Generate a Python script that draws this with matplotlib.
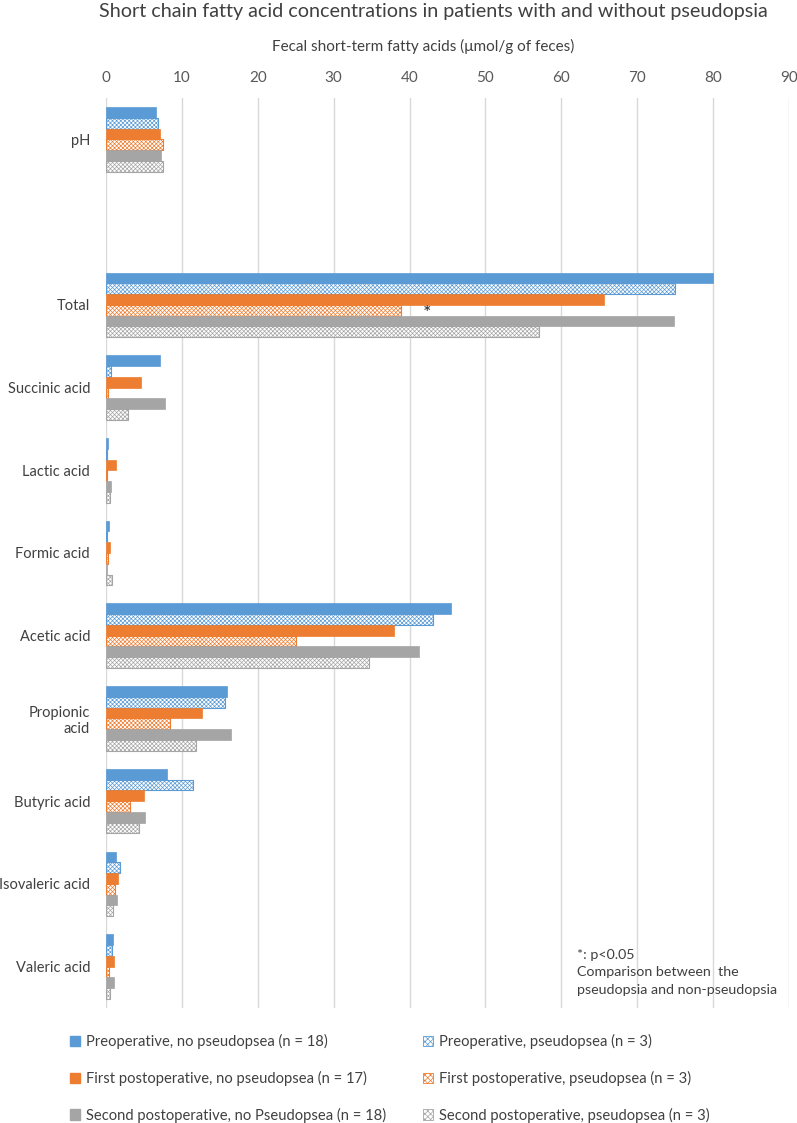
import matplotlib
matplotlib.use("Agg")
import matplotlib.pyplot as plt
from matplotlib.patches import Patch
import numpy as np

plt.rcParams['font.family'] = ['Lato', 'DejaVu Sans']
plt.rcParams['hatch.linewidth'] = 0.5

# categories top to bottom, '' is the empty slot between pH and Total
categories = ['pH', '', 'Total', 'Succinic acid', 'Lactic acid', 'Formic acid',
              'Acetic acid', 'Propionic\nacid', 'Butyric acid', 'Isovaleric acid',
              'Valeric acid']

series_names = [
    'Preoperative, no pseudopsea (n = 18)',
    'Preoperative, pseudopsea (n = 3)',
    'First postoperative, no pseudopsea (n = 17)',
    'First postoperative, pseudopsea (n = 3)',
    'Second postoperative, no Pseudopsea (n = 18)',
    'Second postoperative, pseudopsea (n = 3)',
]

# values per series, same order as categories (None for empty slot)
pre_no = [6.6, None, 80.0, 7.1, 0.22, 0.4, 45.5, 15.9, 8.0, 1.3, 0.97]
pre_yes = [6.8, None, 75.0, 0.7, 0.1, 0.15, 43.1, 15.7, 11.5, 1.9, 0.8]
first_no = [7.1, None, 65.6, 4.6, 1.3, 0.5, 38.0, 12.6, 5.0, 1.6, 1.0]
first_yes = [7.5, None, 38.9, 0.2, 0.15, 0.25, 25.0, 8.4, 3.2, 1.2, 0.35]
second_no = [7.3, None, 74.8, 7.8, 0.7, 0.1, 41.3, 16.5, 5.1, 1.45, 1.0]
second_yes = [7.5, None, 57.0, 2.9, 0.57, 0.8, 34.7, 11.9, 4.4, 0.97, 0.5]

all_series = [pre_no, pre_yes, first_no, first_yes, second_no, second_yes]
colors = ['#5B9BD5', '#5B9BD5', '#ED7D31', '#ED7D31', '#A5A5A5', '#A5A5A5']
hatched = [False, True, False, True, False, True]

sig_label = '*'
note_text = '*: p<0.05\nComparison between  the\npseudopsia and non-pseudopsia'

fig = plt.figure(figsize=(7.97, 11.23), dpi=100)
ax = fig.add_axes([106 / 797, 1 - 1008 / 1123, 683 / 797, 910 / 1123])

y = np.arange(len(categories))
h = 0.13
for j, vals in enumerate(all_series):
    v = np.array([np.nan if a is None else a for a in vals])
    pos = y + (j - 2.5) * h
    if hatched[j]:
        ax.barh(pos, v, height=h, color='white', edgecolor=colors[j],
                hatch='xxxxxxxx', linewidth=0.8, zorder=3)
    else:
        ax.barh(pos, v, height=h, color=colors[j], edgecolor=colors[j],
                linewidth=0.5, zorder=3)

# significance marker next to the first postoperative pseudopsea total bar
ti = categories.index('Total')
ax.text(first_yes[ti] + 3.4, ti + 0.5 * h, sig_label, ha='center', va='center',
        fontsize=9, fontweight='bold', family='DejaVu Sans', color='#404040', zorder=4)

ax.set_xlim(0, 90)
ax.set_xticks(np.arange(0, 91, 10))
ax.set_ylim(len(categories) - 0.5, -0.5)
ax.set_yticks(y)
ax.set_yticklabels(categories, fontsize=10.5, color='#404040')
ax.xaxis.tick_top()
ax.tick_params(axis='x', length=0, labelsize=11, labelcolor='#595959', pad=9.6)
ax.tick_params(axis='y', length=0, pad=11.5)
for s in ax.spines.values():
    s.set_visible(False)
ax.grid(axis='x', color='#D9D9D9', linewidth=1, zorder=0)
ax.set_axisbelow(True)

fig.text(433 / 797, 1 - 12 / 1123, 'Short chain fatty acid concentrations in patients with and without pseudopsia',
         ha='center', va='center', fontsize=14.2, color='#404040')
fig.text(423 / 797, 1 - 46 / 1123, 'Fecal short-term fatty acids (\u03bcmol/g of feces)',
         ha='center', va='center', fontsize=11, color='#404040')

fig.text(577 / 797, 1 - 949 / 1123, note_text, ha='left', va='top',
         fontsize=10.3, color='#404040', linespacing=1.55)

handles = []
for j in [0, 2, 4, 1, 3, 5]:
    if hatched[j]:
        handles.append(Patch(facecolor='white', edgecolor=colors[j], hatch='xxxxxx',
                             linewidth=0.6, label=series_names[j]))
    else:
        handles.append(Patch(facecolor=colors[j], edgecolor=colors[j],
                             label=series_names[j]))
leg = fig.legend(handles=handles, ncol=2, loc='upper left',
                 bbox_to_anchor=(70 / 797, 1 - 1034 / 1123), frameon=False,
                 fontsize=10.6, handlelength=0.7, handleheight=0.7, handletextpad=0.4,
                 labelspacing=1.48, columnspacing=2.5, borderaxespad=0, borderpad=0)
for t in leg.get_texts():
    t.set_color('#404040')

fig.savefig('out.png', dpi=100)
